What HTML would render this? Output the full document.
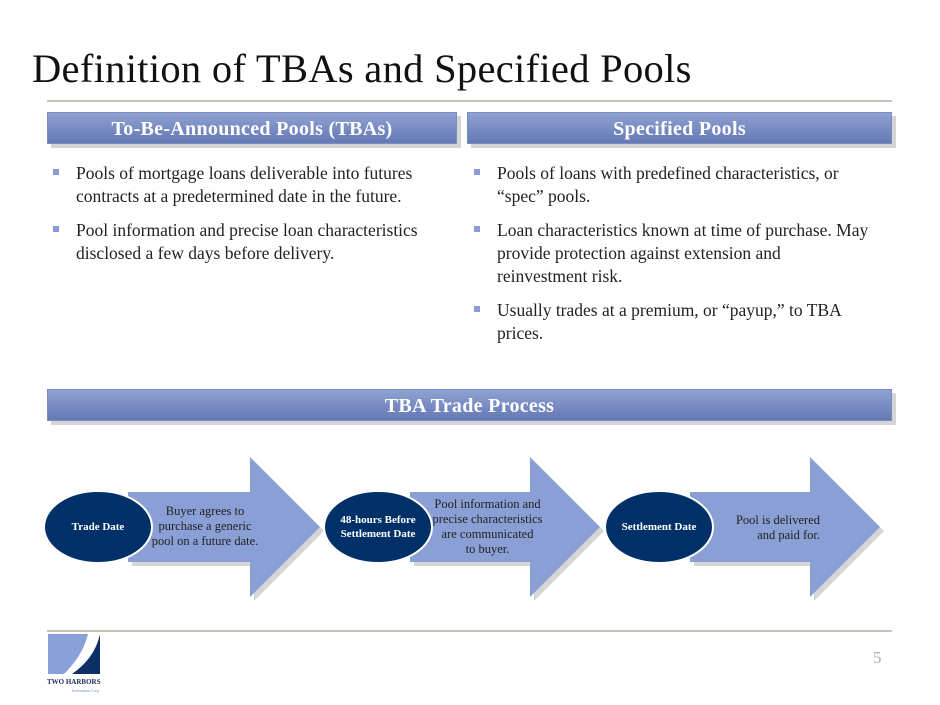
<!DOCTYPE html>
<html><head><meta charset="utf-8"><style>
body{margin:0;width:940px;height:705px;background:#fff;position:relative;overflow:hidden;font-family:"Liberation Serif",serif;color:#222}
.t{position:absolute;left:32px;top:45px;font-size:40.5px;color:#111;white-space:nowrap;letter-spacing:0.3px}
.rule{position:absolute;left:47px;width:845px;height:2px;background:#c8c2bc}
.bar{position:absolute;height:32px;background:linear-gradient(#8fa2d3,#6478b4);color:#fff;font-weight:bold;font-size:20px;text-align:center;line-height:32px;box-shadow:4px 4px 0 #d4d4d4;border:1px solid #7a8cc2;box-sizing:border-box;letter-spacing:0.3px}
ul{position:absolute;margin:0;padding:0;list-style:none;font-size:17.5px;line-height:23px}
li{position:relative;padding-left:26px;margin-bottom:11px}
li:before{content:"";position:absolute;left:3px;top:7px;width:6px;height:6px;background:#8a9dd2}
.tx{position:absolute;font-size:12.5px;line-height:15px;text-align:center;color:#222}
.el{position:absolute;color:#fff;font-weight:bold;font-size:11px;text-align:center;display:flex;align-items:center;justify-content:center;line-height:14px}
</style></head><body>
<div class="t">Definition of TBAs and Specified Pools</div>
<div class="rule" style="top:100px"></div>
<div class="bar" style="left:47px;top:112px;width:410px">To-Be-Announced Pools (TBAs)</div>
<div class="bar" style="left:467px;top:112px;width:425px">Specified Pools</div>
<ul style="left:50px;top:162px;width:395px">
<li>Pools of mortgage loans deliverable into futures contracts at a predetermined date in the future.</li>
<li>Pool information and precise loan characteristics disclosed a few days before delivery.</li></ul>
<ul style="left:471px;top:162px;width:404px">
<li>Pools of loans with predefined characteristics, or “spec” pools.</li>
<li>Loan characteristics known at time of purchase. May provide protection against extension and reinvestment risk.</li>
<li>Usually trades at a premium, or “payup,” to TBA prices.</li></ul>
<div class="bar" style="left:47px;top:389px;width:845px">TBA Trade Process</div>
<svg style="position:absolute;left:0;top:0" width="940" height="705">
<g fill="#d6d6d6">
<polygon points="132,496 254,496 254,461 324,531 254,601 254,566 132,566"/>
<polygon points="414,496 534,496 534,461 604,531 534,601 534,566 414,566"/>
<polygon points="694,496 814,496 814,461 884,531 814,601 814,566 694,566"/>
</g>
<g fill="#8a9fd6">
<polygon points="128,492 250,492 250,457 320,527 250,597 250,562 128,562"/>
<polygon points="410,492 530,492 530,457 600,527 530,597 530,562 410,562"/>
<polygon points="690,492 810,492 810,457 880,527 810,597 810,562 690,562"/>
</g>
<g fill="#003068" stroke="#fff" stroke-width="2">
<ellipse cx="98" cy="527" rx="54" ry="36"/>
<ellipse cx="378" cy="527" rx="54" ry="36"/>
<ellipse cx="659" cy="527" rx="54" ry="36"/>
</g>
</svg>
<div class="el" style="left:44px;top:491px;width:108px;height:72px">Trade Date</div>
<div class="el" style="left:324px;top:491px;width:108px;height:72px">48-hours Before<br>Settlement Date</div>
<div class="el" style="left:605px;top:491px;width:108px;height:72px">Settlement Date</div>
<div class="tx" style="left:145px;top:504px;width:120px">Buyer agrees to<br>purchase a generic<br>pool on a future date.</div>
<div class="tx" style="left:425px;top:497px;width:125px">Pool information and<br>precise characteristics<br>are communicated<br>to buyer.</div>
<div class="tx" style="left:720px;top:513px;width:100px;text-align:right">Pool is delivered<br>and paid for.</div>
<div class="rule" style="top:630px"></div>
<svg style="position:absolute;left:46px;top:634px" width="56" height="42">
<path d="M2,0 H42 C38,16 30,28 18,40 H2 Z" fill="#8aa0d8"/>
<path d="M54,0 C50,18 40,30 26,40 H54 Z" fill="#0c2f68"/>
</svg>
<div style="position:absolute;left:47px;top:678px;font-size:7px;color:#1c2f60;font-weight:bold;white-space:nowrap">TWO HARBORS</div>
<div style="position:absolute;left:72px;top:688px;font-size:4px;color:#7a8cc2;white-space:nowrap">Investment Corp.</div>
<div style="position:absolute;left:873px;top:648px;font-size:17px;color:#aaa">5</div>
</body></html>
